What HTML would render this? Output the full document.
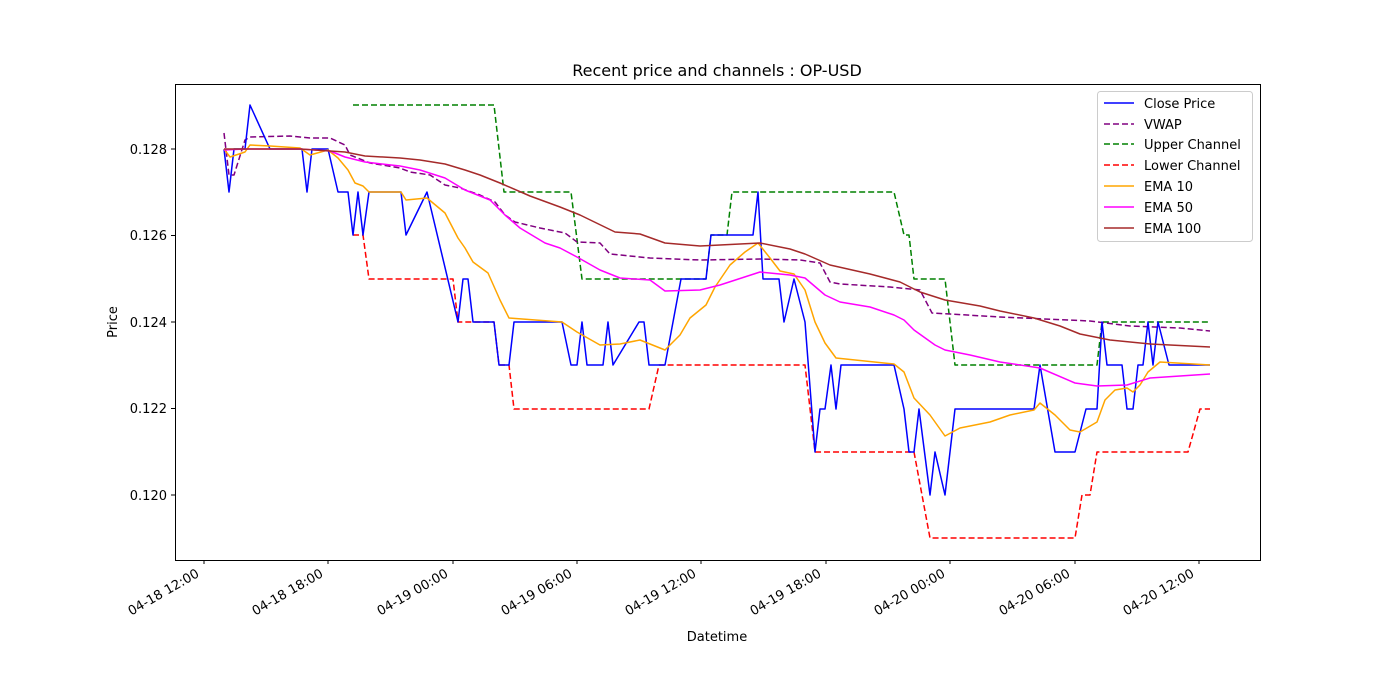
<!DOCTYPE html>
<html><head><meta charset="utf-8"><style>
html,body{margin:0;padding:0;background:#fff;}
svg{display:block;font-family:"DejaVu Sans","Liberation Sans",sans-serif;}
</style></head><body>
<svg width="1400" height="700" viewBox="0 0 1400 700">
<rect width="1400" height="700" fill="#fff"/>
<text x="717" y="76" font-size="16" text-anchor="middle" fill="#000">Recent price and channels : OP-USD</text>
<g fill="none" stroke-width="1.5" stroke-linejoin="round">
<polyline stroke="#008000" stroke-dasharray="6,3" points="353,105 494,105 504,192 571,192 582,279 706,279 711,235 727,235 732,192 894,192 904,235 909,235 914,279 945,279 955,365 1097,365 1102,322 1210,322"/>
<polyline stroke="#ff0000" stroke-dasharray="6,3" points="353,235 363,235 369,279 453,279 458,322 494,322 499,365 509,365 514,409 649,409 659,365 805,365 815,452 914,452 930,538 1075,538 1082,495 1090,495 1097,452 1188,452 1200,409 1210,409"/>
<polyline stroke="#800080" stroke-dasharray="6,3" points="224,133 229,175 234,175 245,140 250,137 290,136 310,138 330,138 345,145 350,155 370,163 400,168 410,172 430,175 445,185 460,188 480,195 495,202 505,215 515,222 540,228 565,233 577,242 600,243 610,254 650,258 700,260 760,259 800,260 820,263 830,282 840,284 890,287 920,290 932,313 950,314 1000,317 1090,321 1130,326 1180,328 1210,331"/>
<polyline stroke="#0000ff" points="224,149 229,192 234,149 245,149 250,105 270,149 302,149 307,192 312,149 328,149 338,192 348,192 353,235 358,192 363,235 369,192 401,192 406,235 427,192 458,322 463,279 468,279 473,322 494,322 499,365 509,365 514,322 562,322 571,365 577,365 582,322 587,365 603,365 608,322 613,365 639,322 644,322 649,365 665,365 681,279 706,279 711,235 753,235 758,192 763,279 779,279 784,322 794,279 805,322 815,452 820,409 825,409 831,365 836,409 841,365 894,365 904,409 909,452 914,452 919,409 930,495 935,452 945,495 955,409 1034,409 1040,365 1055,452 1075,452 1086,409 1097,409 1102,322 1107,365 1122,365 1127,409 1133,409 1138,365 1143,365 1148,322 1153,365 1158,322 1169,365 1210,365"/>
<polyline stroke="#ffa500" points="224,149 230,157 245,152 250,145 270,146 300,148 310,155 328,150 338,158 348,170 355,183 363,186 369,192 401,192 406,200 427,198 445,213 458,238 465,248 473,262 488,273 500,300 509,318 562,322 577,332 600,345 620,344 640,340 665,350 680,335 690,318 706,305 715,287 730,265 745,252 758,243 770,258 780,271 794,274 805,290 815,322 825,343 836,358 894,364 904,372 914,398 930,415 945,436 960,428 990,422 1010,415 1034,410 1040,403 1055,415 1070,430 1080,432 1097,422 1105,400 1115,390 1127,388 1133,392 1140,385 1148,372 1160,362 1210,365"/>
<polyline stroke="#ff00ff" points="224,150 245,149 300,149 330,151 345,157 365,162 400,166 420,170 445,178 465,190 490,200 505,215 520,228 545,243 560,248 577,257 600,270 620,278 650,280 665,291 700,290 720,285 760,272 790,275 805,278 825,295 840,302 870,307 894,315 904,320 914,330 935,345 945,350 970,355 1000,362 1040,368 1075,383 1097,386 1127,385 1150,378 1210,374"/>
<polyline stroke="#a52a2a" points="224,149 300,149 345,152 365,156 400,158 420,160 445,164 465,170 480,175 500,183 530,196 560,207 580,215 615,232 640,234 665,243 700,246 760,243 790,249 805,254 830,265 870,274 900,282 920,292 945,300 980,306 1000,311 1034,318 1060,326 1080,334 1110,340 1150,344 1210,347"/>
</g>
<rect x="175.5" y="84.5" width="1085" height="476" fill="none" stroke="#000" stroke-width="1"/>
<g stroke="#000" stroke-width="1">
<line x1="175" y1="149" x2="171" y2="149"/><line x1="175" y1="235.5" x2="171" y2="235.5"/><line x1="175" y1="322" x2="171" y2="322"/><line x1="175" y1="408.5" x2="171" y2="408.5"/><line x1="175" y1="495" x2="171" y2="495"/>
<line x1="204" y1="560" x2="204" y2="564"/><line x1="328" y1="560" x2="328" y2="564"/><line x1="453" y1="560" x2="453" y2="564"/><line x1="577" y1="560" x2="577" y2="564"/><line x1="701" y1="560" x2="701" y2="564"/><line x1="826" y1="560" x2="826" y2="564"/><line x1="950" y1="560" x2="950" y2="564"/><line x1="1075" y1="560" x2="1075" y2="564"/><line x1="1199" y1="560" x2="1199" y2="564"/>
</g>
<g font-size="13" text-anchor="end" fill="#000">
<text x="167" y="154">0.128</text><text x="167" y="240">0.126</text><text x="167" y="327">0.124</text><text x="167" y="413">0.122</text><text x="167" y="500">0.120</text>
</g>
<g font-size="13" text-anchor="end" fill="#000">
<text transform="translate(200,576) rotate(-30)">04-18 12:00</text>
<text transform="translate(324,576) rotate(-30)">04-18 18:00</text>
<text transform="translate(449,576) rotate(-30)">04-19 00:00</text>
<text transform="translate(573,576) rotate(-30)">04-19 06:00</text>
<text transform="translate(697,576) rotate(-30)">04-19 12:00</text>
<text transform="translate(822,576) rotate(-30)">04-19 18:00</text>
<text transform="translate(946,576) rotate(-30)">04-20 00:00</text>
<text transform="translate(1071,576) rotate(-30)">04-20 06:00</text>
<text transform="translate(1195,576) rotate(-30)">04-20 12:00</text>
</g>
<text x="717" y="641" font-size="13" text-anchor="middle">Datetime</text>
<text transform="translate(117,322) rotate(-90)" font-size="13" text-anchor="middle">Price</text>
<rect x="1097.5" y="91.5" width="155" height="150" rx="3" fill="#fff" fill-opacity="0.8" stroke="#ccc"/>
<g stroke-width="1.5" fill="none">
<line x1="1104" y1="103" x2="1134" y2="103" stroke="#0000ff"/>
<line x1="1104" y1="124" x2="1134" y2="124" stroke="#800080" stroke-dasharray="6,3"/>
<line x1="1104" y1="144" x2="1134" y2="144" stroke="#008000" stroke-dasharray="6,3"/>
<line x1="1104" y1="165" x2="1134" y2="165" stroke="#ff0000" stroke-dasharray="6,3"/>
<line x1="1104" y1="186" x2="1134" y2="186" stroke="#ffa500"/>
<line x1="1104" y1="207" x2="1134" y2="207" stroke="#ff00ff"/>
<line x1="1104" y1="228" x2="1134" y2="228" stroke="#a52a2a"/>
</g>
<g font-size="13" fill="#000">
<text x="1144" y="108">Close Price</text>
<text x="1144" y="129">VWAP</text>
<text x="1144" y="149">Upper Channel</text>
<text x="1144" y="170">Lower Channel</text>
<text x="1144" y="191">EMA 10</text>
<text x="1144" y="212">EMA 50</text>
<text x="1144" y="233">EMA 100</text>
</g>
</svg>
</body></html>
